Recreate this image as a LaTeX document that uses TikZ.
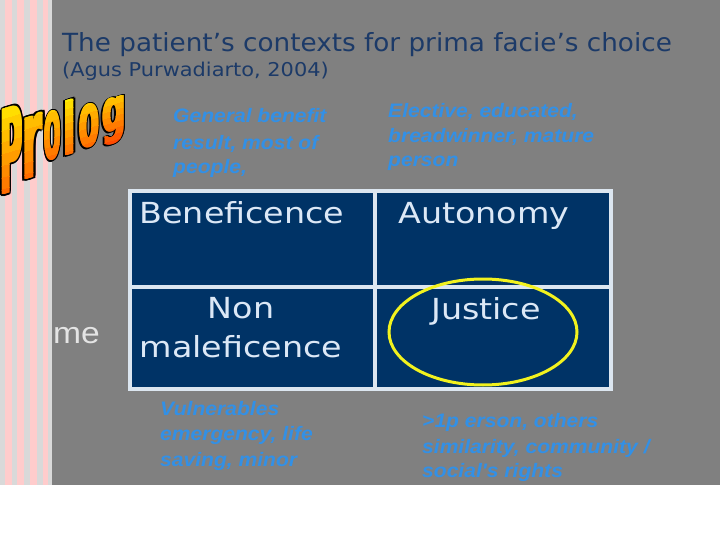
\documentclass[tikz,border=0pt]{standalone}
\usepackage{fontspec}
\usetikzlibrary{shapes.geometric}
\setmainfont{DejaVu Sans}
\newfontfamily\vfont{DejaVu Sans}[FakeStretch=1.15]
\newfontfamily\tfont{DejaVu Sans}[FakeStretch=1.05]
\newfontfamily\sfont{DejaVu Sans}[FakeStretch=1.1]
\newfontfamily\afont{Liberation Sans}[FakeStretch=1.08]
\newfontfamily\mfont{Liberation Sans}[FakeStretch=1.12]
\newfontfamily\pfont{DejaVu Sans Bold}
\definecolor{bggrey}{HTML}{808080}
\definecolor{stripegrey}{HTML}{D9D9D9}
\definecolor{stripepink}{HTML}{FFCCCC}
\definecolor{titleblue}{HTML}{1C3A68}
\definecolor{navy}{HTML}{003366}
\definecolor{cellline}{HTML}{DCE6F0}
\definecolor{celltext}{HTML}{DCE8F6}
\definecolor{noteblue}{HTML}{3290E6}
\definecolor{ringyellow}{HTML}{F2F21E}
\definecolor{proltop}{HTML}{FFEE00}
\definecolor{prolbot}{HTML}{FF4A00}
\definecolor{metext}{HTML}{E4E4E4}
\tikzset{
  cellbox/.style={draw=none, fill=navy, inner sep=0, anchor=north west},
  celllabel/.style={text=celltext, font=\vfont\fontsize{29}{34}\selectfont, inner sep=0, anchor=base},
  note/.style={text=noteblue, font=\afont\bfseries\itshape\fontsize{19.5}{23}\selectfont, inner sep=0, anchor=base west},
  pl/.style={font=\pfont\fontsize{100}{110}\selectfont, inner sep=0, anchor=base west, transform shape}
}
% #1 x, #2 baseline y, #3 xscale, #4 yscale, #5 letter
\newcommand\prologletter[5]{%
  \pgfmathsetmacro\plslant{#3*0.3}%
  \begin{scope}[shift={(#1,#2)}, cm={#3,\plslant,0,#4,(0,0)}]
    \foreach \dx/\dy in {-4/0,11/0,3.5/-1.6,3.5/1.6,-3/-1.3,10/-1.3,-3/1.3,10/1.3,0/-1.6,7/-1.6,0/1.6,7/1.6}
      \node[pl, text=black] at (\dx,\dy) {#5};
    \foreach \i in {0,...,10}{%
      \pgfmathtruncatemacro\pct{\i*10}%
      \begin{scope}
        \clip (-10,-85+\i*10) rectangle (130,-74.5+\i*10);
        \foreach \sx in {0,2.4,4.8,7}
          \node[pl, text=prolbot!\pct!proltop] at (\sx,0) {#5};
      \end{scope}}
  \end{scope}}
\begin{document}
\begin{tikzpicture}[x=1pt,y=-1pt]
\useasboundingbox (0,0) rectangle (720,540);
\fill[white] (0,0) rectangle (720,540);
\fill[bggrey] (52,0) rectangle (720,485);
\fill[stripegrey] (0,0) rectangle (52,485);
\foreach \a/\b in {5/12,17/24,30/37,43/48}
  \fill[stripepink] (\a,0) rectangle (\b,485);

% partially hidden word
\node[text=metext, font=\mfont\fontsize{30}{34}\selectfont, inner sep=0, anchor=base west] (me) at (53,343) {me};

% title
\node[text=titleblue, font=\tfont\fontsize{25}{30}\selectfont, inner sep=0, anchor=base west] (title) at (62,52) {The patient’s contexts for prima facie’s choice};
\node[text=titleblue, font=\sfont\fontsize{19}{23}\selectfont, inner sep=0, anchor=base west] (source) at (62,77) {(Agus Purwadiarto, 2004)};

% table
\fill[cellline] (128,189) rectangle (613,391);
\node[cellbox, minimum width=241pt, minimum height=92pt] (ben) at (132,193) {};
\node[cellbox, minimum width=232pt, minimum height=92pt] (aut) at (377,193) {};
\node[cellbox, minimum width=241pt, minimum height=98pt] (non) at (132,289) {};
\node[cellbox, minimum width=232pt, minimum height=98pt] (jus) at (377,289) {};
\node[celllabel] (benl) at (242,224) {Beneficence};
\node[celllabel] (autl) at (484,224) {Autonomy};
\node[celllabel] (nonl1) at (241,318) {Non};
\node[celllabel] (nonl2) at (241,357) {maleficence};
\node[celllabel] (jusl) at (486,319) {Justice};
\node[draw=ringyellow, line width=3pt, ellipse, minimum width=188pt, minimum height=106pt, inner sep=0] (ring) at (483,332) {};

% notes
\node[note] (n1a) at (173,123) {General benefit};
\node[note] (n1b) at (173,150) {result, most of};
\node[note] (n1c) at (173,174) {people,};
\node[note] (n2a) at (388,118) {Elective, educated,};
\node[note] (n2b) at (388,143) {breadwinner, mature};
\node[note] (n2c) at (388,167) {person};
\node[note] (n3a) at (160,415) {Vulnerables};
\node[note] (n3b) at (160,440) {emergency, life};
\node[note] (n3c) at (160,466) {saving, minor};
\node[note] (n4a) at (422,427) {>1p erson, others};
\node[note] (n4b) at (422,453) {similarity, community /};
\node[note] (n4c) at (422,477) {social's rights};

% Prolog word art
\prologletter{-1}{196}{0.31}{1.17}{P}
\prologletter{21}{181}{0.4}{1.12}{r}
\prologletter{43}{162}{0.25}{0.86}{o}
\prologletter{62}{157}{0.36}{0.72}{l}
\prologletter{78}{150}{0.29}{0.76}{o}
\prologletter{101}{135}{0.33}{0.6}{g}
\end{tikzpicture}
\end{document}
